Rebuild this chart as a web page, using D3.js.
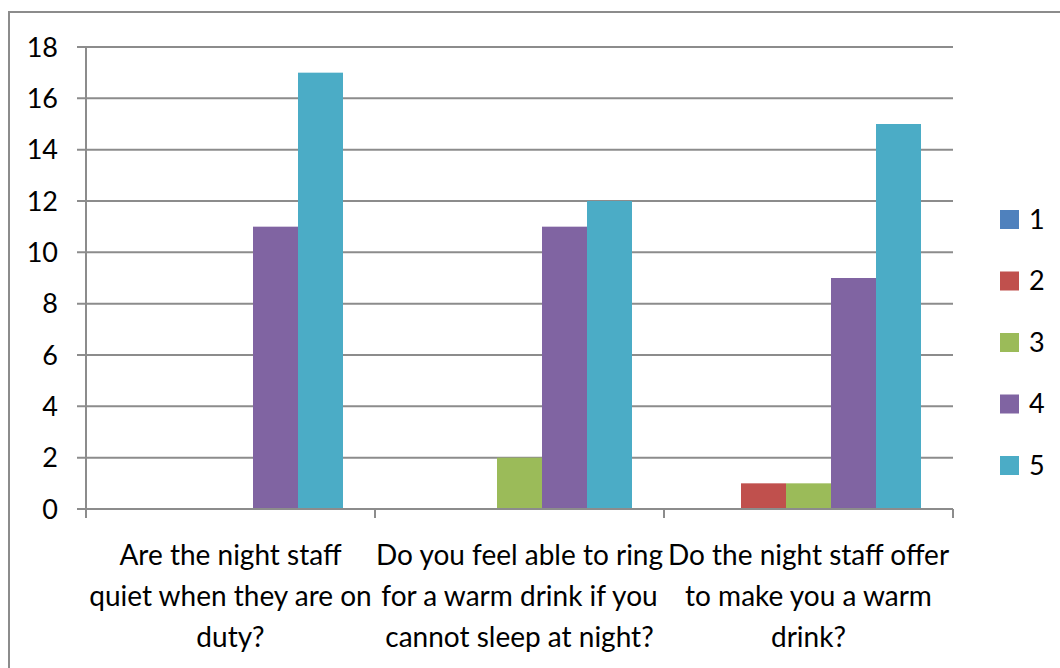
<!DOCTYPE html>
<html><head><meta charset="utf-8">
<script src="https://cdn.jsdelivr.net/npm/d3@7"></script>
<style>html,body{margin:0;padding:0;background:#fff;} svg{display:block;}</style>
</head><body>
<svg id="c" width="1060" height="668"></svg>
<script>
const categories = [
  ["Are the night staff", "quiet when they are on", "duty?"],
  ["Do you feel able to ring", "for a warm drink if you", "cannot sleep at night?"],
  ["Do the night staff offer", "to make you a warm", "drink?"]
];
const seriesNames = ["1", "2", "3", "4", "5"];
const seriesColors = ["#4F81BD", "#C0504D", "#9BBB59", "#8064A2", "#4BACC6"];
const s1 = [0, 0, 0];
const s2 = [0, 0, 1];
const s3 = [0, 2, 1];
const s4 = [11, 11, 9];
const s5 = [17, 12, 15];
const seriesValues = [s1, s2, s3, s4, s5];
const yTicks = [0, 2, 4, 6, 8, 10, 12, 14, 16, 18];

const svg = d3.select("#c");
const font = "Lato, 'Open Sans', sans-serif";
const grid = "#8c8c8c";

// outer border
svg.append("rect").attr("x", 9).attr("y", 12).attr("width", 1060).attr("height", 700)
  .attr("fill", "none").attr("stroke", grid).attr("stroke-width", 2);

const x0 = d3.scaleBand().domain(d3.range(categories.length)).range([86, 953]).paddingInner(0).paddingOuter(0);
const x1 = d3.scaleBand().domain(seriesNames).range([32, x0.bandwidth() - 32]);
const y = d3.scaleLinear().domain([0, 18]).range([509, 47]);

// gridlines + y ticks
svg.append("g").selectAll("line").data(yTicks).join("line")
  .attr("x1", 77).attr("x2", 953).attr("y1", d => y(d)).attr("y2", d => y(d))
  .attr("stroke", grid).attr("stroke-width", 2);
svg.append("g").selectAll("text").data(yTicks).join("text")
  .attr("x", 58).attr("y", d => y(d)).attr("dy", "0.36em").attr("text-anchor", "end")
  .attr("font-family", font).attr("font-size", 27).attr("fill", "#000").text(d => d);

// bars
const g = svg.append("g");
categories.forEach((c, ci) => {
  seriesNames.forEach((s, si) => {
    const v = seriesValues[si][ci];
    if (v > 0) {
      g.append("rect").attr("x", x0(ci) + x1(s)).attr("width", x1.bandwidth())
        .attr("y", y(v)).attr("height", y(0) - y(v)).attr("fill", seriesColors[si]);
    }
  });
});

// axes lines
svg.append("line").attr("x1", 86).attr("x2", 86).attr("y1", y(18)).attr("y2", 518)
  .attr("stroke", grid).attr("stroke-width", 2);
svg.append("line").attr("x1", 77).attr("x2", 953).attr("y1", y(0)).attr("y2", y(0))
  .attr("stroke", grid).attr("stroke-width", 2);
const xt = d3.range(categories.length + 1).map(i => i < categories.length ? x0(i) : x0(i - 1) + x0.bandwidth());
svg.append("g").selectAll("line").data(xt).join("line")
  .attr("x1", d => d).attr("x2", d => d).attr("y1", y(0)).attr("y2", 518)
  .attr("stroke", grid).attr("stroke-width", 2);

// category labels
categories.forEach((lines, ci) => {
  const cx = x0(ci) + x0.bandwidth() / 2;
  lines.forEach((t, li) => {
    svg.append("text").attr("x", cx).attr("y", 565 + li * 41).attr("text-anchor", "middle")
      .attr("font-family", font).attr("font-size", 28).attr("fill", "#000").text(t);
  });
});

// legend
const lg = svg.append("g");
seriesNames.forEach((s, i) => {
  const cy = 219 + i * 61.5;
  lg.append("rect").attr("x", 1000).attr("y", cy - 9).attr("width", 19).attr("height", 19).attr("fill", seriesColors[i]);
  lg.append("text").attr("x", 1029).attr("y", cy).attr("dy", "0.36em")
    .attr("font-family", font).attr("font-size", 27).attr("fill", "#000").text(s);
});
</script>
</body></html>
